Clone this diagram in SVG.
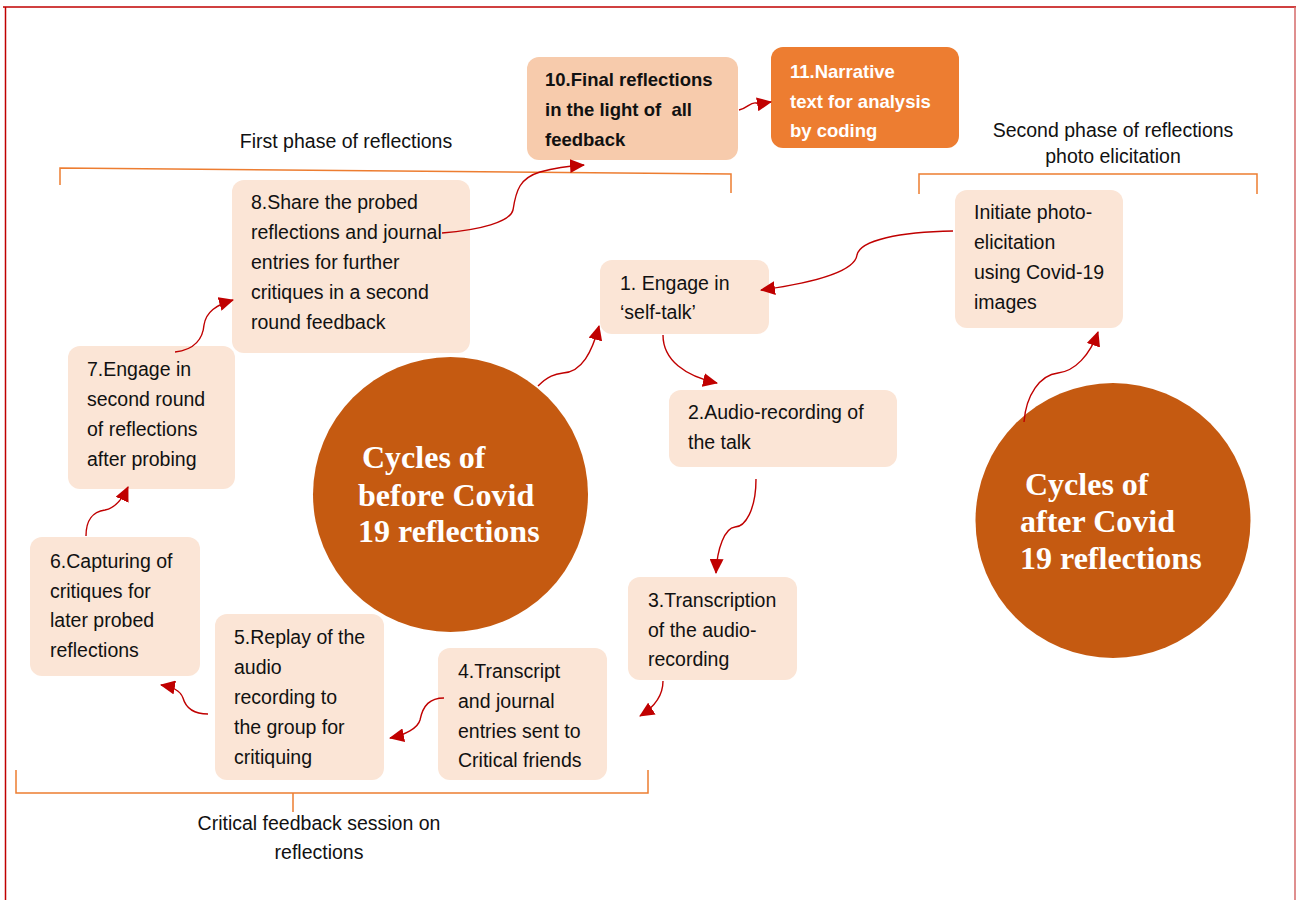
<svg xmlns="http://www.w3.org/2000/svg" width="1296" height="900" viewBox="0 0 1296 900">
<defs>
<style>
.box{fill:#FBE5D6;}
.t{font-family:"Liberation Sans",Arial,sans-serif;font-size:19.5px;fill:#111;}
.tb{font-family:"Liberation Sans",Arial,sans-serif;font-size:18.5px;font-weight:bold;white-space:pre;}
.lab{font-family:"Liberation Sans",Arial,sans-serif;font-size:19.5px;fill:#111;text-anchor:middle;}
.ct{font-family:"Liberation Serif","Times New Roman",serif;font-size:32px;font-weight:bold;fill:#fff;}
.circ{fill:#C55A11;}
.br{fill:none;stroke:#ED7D31;stroke-width:1.5;}
.c{fill:none;stroke:#C00000;stroke-width:1.4;marker-end:url(#ah);}
</style>
<marker id="ah" markerUnits="userSpaceOnUse" markerWidth="15" markerHeight="14" refX="14" refY="7" orient="auto">
<path d="M0,0 L15,7 L0,14 z" fill="#C00000"/>
</marker>
</defs>
<rect width="1296" height="900" fill="#fff"/>
<g id="border" fill="none" stroke-width="1.5">
<path d="M3,7 H1296" stroke="#C00000"/>
<path d="M5.5,7 V900" stroke="#C00000"/>
<path d="M1295,7 V900" stroke="#D46A6A"/>
</g>
<g id="brackets">
<path class="br" d="M60,185 V168 L731,174 V193"/>
<path class="br" d="M919,194 V174 H1257 V194"/>
<path class="br" d="M16,770 V793 H648 V770 M293,793 V812"/>
</g>
<g id="labels">
<text class="lab" x="346" y="148">First phase of reflections</text>
<text class="lab" x="1113" y="137">Second phase of reflections</text>
<text class="lab" x="1113" y="163">photo elicitation</text>
<text class="lab" x="319" y="830">Critical feedback session on</text>
<text class="lab" x="319" y="859">reflections</text>
</g>
<g id="circle-before">
<circle class="circ" cx="450.5" cy="494.5" r="137.5"/>
<text class="ct" x="362" y="468">Cycles of</text>
<text class="ct" x="358" y="506">before Covid</text>
<text class="ct" x="358" y="542">19 reflections</text>
</g>
<g id="circle-after">
<circle class="circ" cx="1113" cy="520.5" r="137.5"/>
<text class="ct" x="1025" y="495">Cycles of</text>
<text class="ct" x="1020" y="532">after Covid</text>
<text class="ct" x="1020" y="569">19 reflections</text>
</g>
<g id="n10">
<rect x="527" y="57" width="211" height="103" rx="12" fill="#F7CBAC"/>
<text class="tb" x="545" y="86" fill="#111">10.Final reflections</text>
<text class="tb" x="545" y="116" fill="#111" xml:space="preserve">in the light of  all</text>
<text class="tb" x="545" y="146" fill="#111">feedback</text>
</g>
<g id="n11">
<rect x="771" y="47" width="188" height="101" rx="12" fill="#ED7D31"/>
<text class="tb" x="790" y="78" fill="#fff">11.Narrative</text>
<text class="tb" x="790" y="108" fill="#fff">text for analysis</text>
<text class="tb" x="790" y="137" fill="#fff">by coding</text>
</g>
<g id="n8">
<rect class="box" x="232" y="180" width="238" height="173" rx="12"/>
<text class="t" x="251" y="209">8.Share the probed</text>
<text class="t" x="251" y="239">reflections and journal</text>
<text class="t" x="251" y="269">entries for further</text>
<text class="t" x="251" y="299">critiques in a second</text>
<text class="t" x="251" y="329">round feedback</text>
</g>
<g id="n7">
<rect class="box" x="68" y="346" width="167" height="143" rx="12"/>
<text class="t" x="87" y="376">7.Engage in</text>
<text class="t" x="87" y="406">second round</text>
<text class="t" x="87" y="436">of reflections</text>
<text class="t" x="87" y="466">after probing</text>
</g>
<g id="n6">
<rect class="box" x="30" y="537" width="170" height="139" rx="12"/>
<text class="t" x="50" y="568">6.Capturing of</text>
<text class="t" x="50" y="598">critiques for</text>
<text class="t" x="50" y="627">later probed</text>
<text class="t" x="50" y="657">reflections</text>
</g>
<g id="n5">
<rect class="box" x="215" y="614" width="169" height="166" rx="12"/>
<text class="t" x="234" y="644">5.Replay of the</text>
<text class="t" x="234" y="674">audio</text>
<text class="t" x="234" y="704">recording to</text>
<text class="t" x="234" y="734">the group for</text>
<text class="t" x="234" y="764">critiquing</text>
</g>
<g id="n4">
<rect class="box" x="438" y="648" width="169" height="132" rx="12"/>
<text class="t" x="458" y="678">4.Transcript</text>
<text class="t" x="458" y="708">and journal</text>
<text class="t" x="458" y="738">entries sent to</text>
<text class="t" x="458" y="767">Critical friends</text>
</g>
<g id="n3">
<rect class="box" x="628" y="577" width="169" height="103" rx="12"/>
<text class="t" x="648" y="607">3.Transcription</text>
<text class="t" x="648" y="637">of the audio-</text>
<text class="t" x="648" y="666">recording</text>
</g>
<g id="n2">
<rect class="box" x="669" y="390" width="228" height="77" rx="12"/>
<text class="t" x="688" y="419">2.Audio-recording of</text>
<text class="t" x="688" y="449">the talk</text>
</g>
<g id="n1">
<rect class="box" x="600" y="260" width="169" height="74" rx="12"/>
<text class="t" x="620" y="290">1. Engage in</text>
<text class="t" x="620" y="319">‘self-talk’</text>
</g>
<g id="photo">
<rect class="box" x="955" y="190" width="168" height="138" rx="12"/>
<text class="t" x="974" y="219">Initiate photo-</text>
<text class="t" x="974" y="249">elicitation</text>
<text class="t" x="974" y="279">using Covid-19</text>
<text class="t" x="974" y="309">images</text>
</g>
<g id="connectors">
<path class="c" d="M538,386 C548,376 555,374 563,373 C582,372 592,352 599,326"/>
<path class="c" d="M663,335 C663,360 685,376 717,383"/>
<path class="c" d="M756,479 C756,510 745,527 735,527 C725,528 717,548 716,573"/>
<path class="c" d="M663,681 C663,695 656,706 640,716"/>
<path class="c" d="M444,698 C430,698 423,705 420,720 C418,728 405,735 390,738"/>
<path class="c" d="M208,714 C190,714 185,705 183,698 C180,690 172,687 161,685"/>
<path class="c" d="M86,536 C86,520 92,512 105,510 C115,508 122,500 128,487"/>
<path class="c" d="M175,352 C195,350 203,338 204,325 C206,312 216,305 233,300"/>
<path class="c" d="M442,233 C480,230 510,222 513,210 C516,190 520,178 540,172 C555,168 570,166 584,165"/>
<path class="c" d="M739,110 C748,108 750,102 756,103 C760,104 765,103 771,102"/>
<path class="c" d="M953,231 C900,232 860,240 857,255 C855,270 820,282 761,290"/>
<path class="c" d="M1024,422 C1026,395 1040,375 1058,373 C1075,371 1090,355 1098,332"/>
</g>
</svg>
